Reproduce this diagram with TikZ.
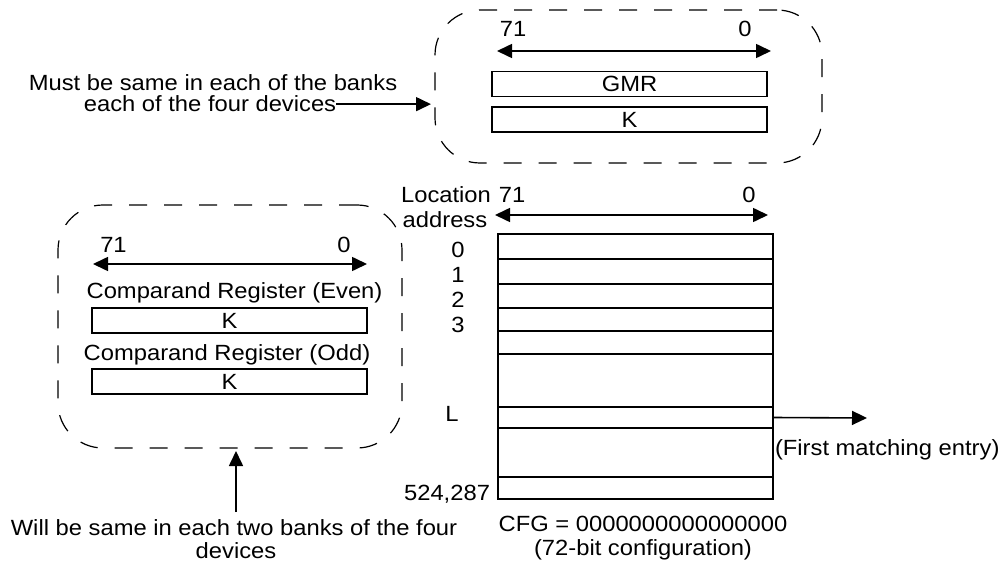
\documentclass[tikz,border=0pt]{standalone}
\usepackage{fontspec}
\setmainfont{Liberation Sans}[FakeStretch=1.08]
\usetikzlibrary{arrows.meta}
\begin{document}
\begin{tikzpicture}[x=1pt,y=-1pt,
  every node/.style={inner sep=0pt, outer sep=0pt, font=\fontsize{22pt}{23pt}\selectfont},
  txt/.style={anchor=base},
  reg/.style={draw, line width=1.6pt, minimum height=25pt, minimum width=275pt},
  row/.style={draw, line width=1.6pt, minimum width=275pt, anchor=north west},
  dbox/.style={draw, dash pattern=on 18pt off 17pt, line width=1.2pt, rounded corners=45pt},
  arr/.style={line width=1.6pt, -{Triangle[length=15pt,width=14pt]}},
  darr/.style={line width=1.6pt, {Triangle[length=15pt,width=14pt]}-{Triangle[length=15pt,width=14pt]}}]
\useasboundingbox (0,0) rectangle (1002,567);

% ---------- top dashed group ----------
\node[dbox, minimum width=387pt, minimum height=153pt] (topbox) at (628.5,86.5) {};
\node[txt] (t71a) at (513,37) {71};
\node[txt] (t0a) at (745,37) {0};
\coordinate (a1l) at (497,51);
\coordinate (a1r) at (771,51);
\draw[darr] (a1l) -- (a1r);
\node[reg] (gmr) at (629.5,84) {GMR};
\node[reg] (ktop) at (629.5,119.5) {K};

\node[txt] (must1) at (213,91) {Must be same in each of the banks};
\node[txt] (must2) at (210,112) {each of the four devices};
\draw[arr, shorten >=4pt] (must2.east) -- (must2.east -| topbox.west);

% ---------- memory array ----------
\node[txt] (loc1) at (446,203) {Location};
\node[txt] (loc2) at (445,227) {address};
\node[txt] (t71b) at (512,203) {71};
\node[txt] (t0b) at (749,203) {0};
\coordinate (a2l) at (495,215);
\coordinate (a2r) at (768,215);
\draw[darr] (a2l) -- (a2r);

\node[row, minimum height=25pt] (r0) at (498,234) {};
\node[row, minimum height=25pt] (r1) at (498,259) {};
\node[row, minimum height=24pt] (r2) at (498,284) {};
\node[row, minimum height=23pt] (r3) at (498,308) {};
\node[row, minimum height=23pt] (r4) at (498,331) {};
\node[row, minimum height=53pt] (g1) at (498,354) {};
\node[row, minimum height=21pt] (rL) at (498,407) {};
\node[row, minimum height=49pt] (g2) at (498,428) {};
\node[row, minimum height=22pt] (rN) at (498,477) {};

\node[txt] (l0) at (458,258) {0};
\node[txt] (l1) at (458,282) {1};
\node[txt] (l2) at (458,307) {2};
\node[txt] (l3) at (458,332) {3};
\node[txt] (lL) at (452,421) {L};
\node[anchor=base east] (lN) at (490,500) {524,287};

\coordinate (fmt) at (867,418);
\draw[arr] (rL.east) -- (fmt);
\node[anchor=base west] (first) at (775,455) {(First matching entry)};

\node[txt] (cfg1) at (643,531) {CFG = 0000000000000000};
\node[txt] (cfg2) at (643,555) {(72-bit configuration)};

% ---------- left dashed group ----------
\node[dbox, minimum width=344pt, minimum height=243pt] (leftbox) at (230,326.5) {};
\node[txt] (t71c) at (113.5,252) {71};
\node[txt] (t0c) at (344,252) {0};
\coordinate (a3l) at (93,264);
\coordinate (a3r) at (367,264);
\draw[darr] (a3l) -- (a3r);
\node[txt] (ceven) at (234.5,298) {Comparand Register (Even)};
\node[reg] (keven) at (229.5,320.5) {K};
\node[txt] (codd) at (227,360) {Comparand Register (Odd)};
\node[reg] (kodd) at (229.5,381.5) {K};

\coordinate (wb) at (236,512);
\draw[arr, shorten >=3pt] (wb) -- (wb |- leftbox.south);
\node[txt] (will1) at (234,535) {Will be same in each two banks of the four};
\node[txt] (will2) at (236,558) {devices};
\end{tikzpicture}
\end{document}
